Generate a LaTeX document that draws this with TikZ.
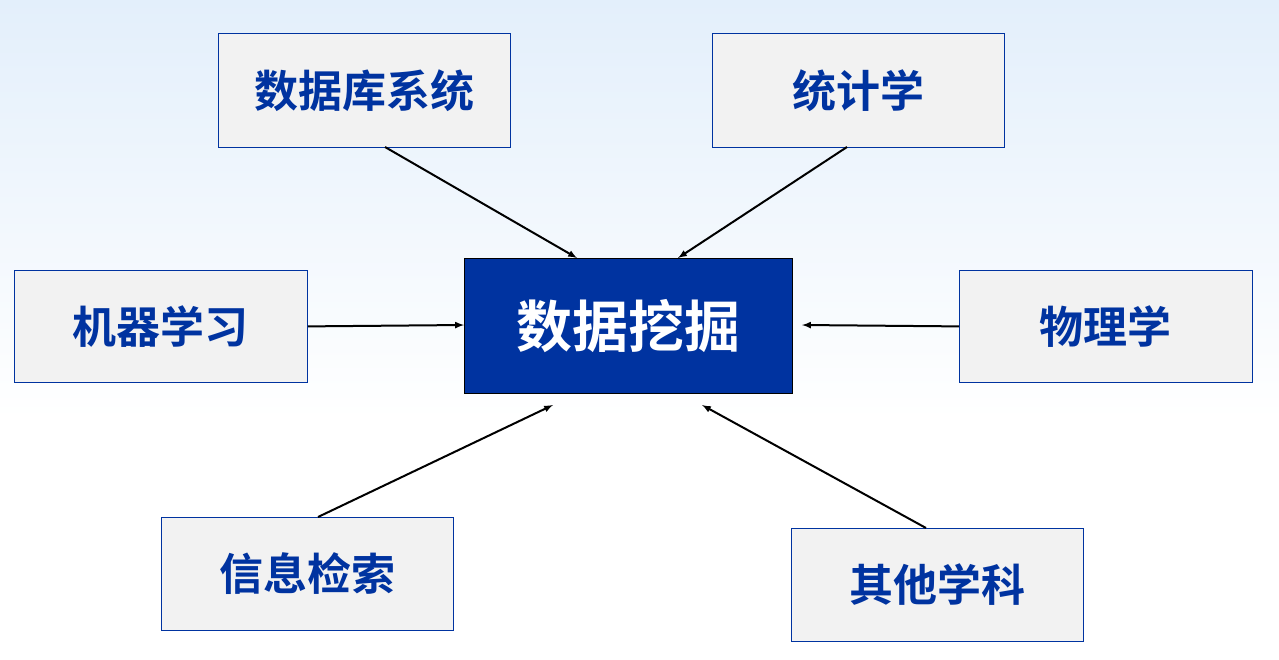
\documentclass[tikz,border=0pt]{standalone}
\usepackage{fontspec}
\newfontfamily\cjk{Noto Sans CJK SC Bold}
\definecolor{dblue}{HTML}{0033A0}
\definecolor{boxfill}{HTML}{F2F2F2}
\definecolor{bgtop}{HTML}{E3EFFB}
\begin{document}
\begin{tikzpicture}[x=1pt,y=-1pt,
  box/.style={draw=dblue,line width=0.8pt,fill=boxfill,text=dblue,font=\cjk\fontsize{44}{50}\selectfont,inner sep=0pt,anchor=north west},
  arr/.style={-latex,line width=2pt,black}]
\shade[top color=bgtop,bottom color=white] (0,0) rectangle (1279,420);
\fill[white] (0,420) rectangle (1279,659);
\useasboundingbox (0,0) rectangle (1279,659);
\node[box,minimum width=292pt,minimum height=114pt] (db) at (218,33) {数据库系统};
\node[box,minimum width=292pt,minimum height=114pt] (st) at (712,33) {统计学};
\node[box,minimum width=293pt,minimum height=112pt] (ml) at (14,270) {机器学习};
\node[box,minimum width=328pt,minimum height=135pt,fill=dblue,draw=black,text=white,font=\cjk\fontsize{56}{60}\selectfont] (dm) at (464,258) {数据挖掘};
\node[box,minimum width=293pt,minimum height=112pt] (ph) at (959,270) {物理学};
\node[box,minimum width=292pt,minimum height=113pt] (ir) at (161,517) {信息检索};
\node[box,minimum width=292pt,minimum height=113pt] (ot) at (791,528) {其他学科};
\coordinate (a1) at (385,147); \coordinate (b1) at (577,258);
\coordinate (a2) at (847,147); \coordinate (b2) at (678,258);
\coordinate (b3) at (464,325);
\coordinate (b4) at (802,325);
\coordinate (a5) at (318,517); \coordinate (b5) at (553,405);
\coordinate (a6) at (926,528); \coordinate (b6) at (702,405);
\draw[arr] (a1) -- (b1);
\draw[arr] (a2) -- (b2);
\draw[arr] (ml.east) -- (b3);
\draw[arr] (ph.west) -- (b4);
\draw[arr] (a5) -- (b5);
\draw[arr] (a6) -- (b6);
\end{tikzpicture}
\end{document}
